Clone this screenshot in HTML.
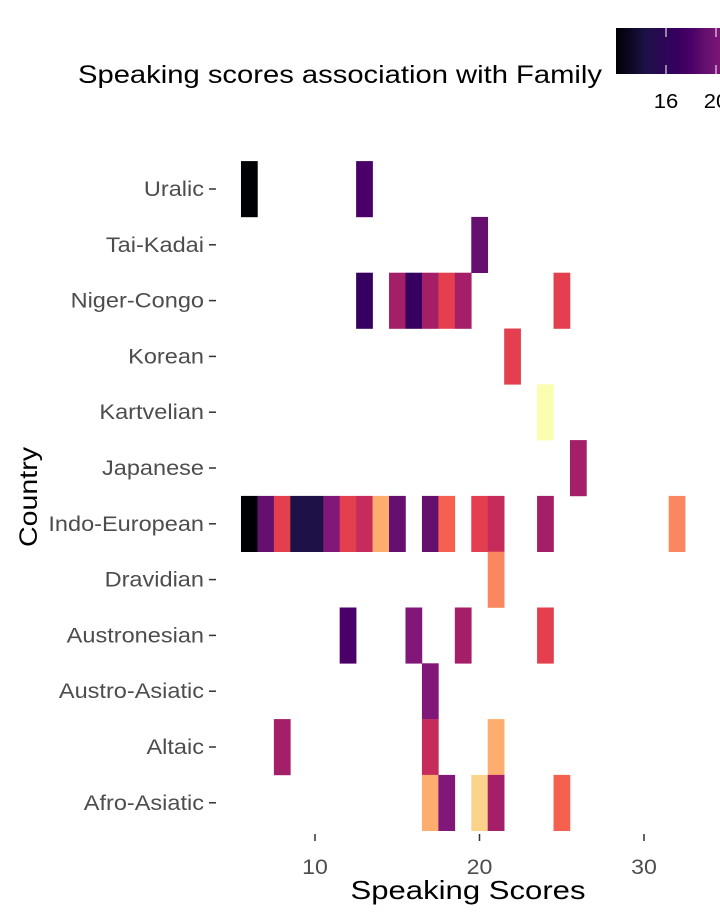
<!DOCTYPE html>
<html><head><meta charset="utf-8"><style>
html,body{margin:0;padding:0;background:#fff}
svg{display:block;font-family:"Liberation Sans",Arial,sans-serif}
</style></head><body>
<svg id="chart" width="720" height="921" viewBox="0 0 720 921">
<defs>
<linearGradient id="cbar" x1="0" x2="1" y1="0" y2="0"></linearGradient>
</defs>
<text x="78" y="83" font-size="25" fill="#000" textLength="524" lengthAdjust="spacingAndGlyphs">Speaking scores association with Family</text>
<g id="legend"></g>
<g id="tiles"></g>
<g id="yaxis"></g>
<g id="xaxis"></g>
<text transform="translate(37,497) rotate(-90)" text-anchor="middle" font-size="25" fill="#000" textLength="100" lengthAdjust="spacingAndGlyphs">Country</text>
<text x="468" y="899" text-anchor="middle" font-size="26" fill="#000" textLength="235" lengthAdjust="spacingAndGlyphs">Speaking Scores</text>
</svg>
<script>
const families = ["Uralic","Tai-Kadai","Niger-Congo","Korean","Kartvelian","Japanese","Indo-European","Dravidian","Austronesian","Austro-Asiatic","Altaic","Afro-Asiatic"];
const tileFamily = [
 "Uralic","Uralic",
 "Tai-Kadai",
 "Niger-Congo","Niger-Congo","Niger-Congo","Niger-Congo","Niger-Congo","Niger-Congo","Niger-Congo",
 "Korean","Kartvelian","Japanese",
 "Indo-European","Indo-European","Indo-European","Indo-European","Indo-European","Indo-European","Indo-European","Indo-European","Indo-European","Indo-European","Indo-European","Indo-European","Indo-European","Indo-European","Indo-European","Indo-European",
 "Dravidian",
 "Austronesian","Austronesian","Austronesian","Austronesian",
 "Austro-Asiatic",
 "Altaic","Altaic","Altaic",
 "Afro-Asiatic","Afro-Asiatic","Afro-Asiatic","Afro-Asiatic","Afro-Asiatic"];
const tileScore = [
 6,13,
 20,
 13,15,16,17,18,19,25,
 22,24,26,
 6,7,8,9,10,11,12,13,14,15,17,18,20,21,24,32,
 21,
 12,16,19,24,
 17,
 8,17,21,
 17,18,20,21,25];
const tileFill = [
 12,18,
 19.2,
 16.8,22.6,16.8,22.6,26.4,22.6,26.4,
 26.4,36,22.6,
 12,19.2,26.4,14.4,14.4,20.6,26.4,24.5,31.7,19.2,19.2,28.3,26.4,24.5,22.6,30,
 30,
 18,20.6,22.6,26.4,
 20.6,
 22.6,24.5,31.7,
 31.7,20.6,33.6,22.6,28.3];
const xTicks = [10,20,30];
const legendTicks = [16,20,24,28,32];

const fillMin = 12, fillMax = 36;
const stops = [[0,"#000004"],[0.1,"#1d1147"],[0.2,"#35005f"],[0.25,"#4a0068"],[0.3,"#65106f"],[0.36,"#83177a"],[0.44,"#a31e68"],[0.52,"#c52c5c"],[0.6,"#e33f4e"],[0.68,"#f5604f"],[0.75,"#fb8761"],[0.82,"#fdae6e"],[0.9,"#fbd38b"],[1,"#fbfdb0"]];
function hex(h){return [1,3,5].map(i=>parseInt(h.substr(i,2),16));}
function color(v){
  let t=Math.max(0,Math.min(1,(v-fillMin)/(fillMax-fillMin)));
  for(let i=1;i<stops.length;i++){ if(t<=stops[i][0]){ const a=stops[i-1],b=stops[i]; const f=(t-a[0])/(b[0]-a[0]); const ca=hex(a[1]),cb=hex(b[1]); return "rgb("+ca.map((c,k)=>Math.round(c+(cb[k]-c)*f)).join(",")+")"; } }
  return stops[stops.length-1][1];
}
const NS="http://www.w3.org/2000/svg";
const xScale = v => 315 + (v-10)*16.45;
const rowH = 55.8;
const yScale = f => 189 + families.indexOf(f)*rowH;
function mk(tag,attrs,parent){const e=document.createElementNS(NS,tag);for(const k in attrs)e.setAttribute(k,attrs[k]);parent.appendChild(e);return e;}
function stretch(t,factor){try{const w=t.getComputedTextLength();if(w>0){t.setAttribute("textLength",(w*factor).toFixed(1));t.setAttribute("lengthAdjust","spacingAndGlyphs");}}catch(e){}}

const tiles=document.getElementById("tiles");
tileScore.forEach((s,i)=>{
  const r=mk("rect",{x:xScale(s-0.5),y:yScale(tileFamily[i])-rowH/2,width:16.45+0.3,height:rowH+0.3,fill:color(tileFill[i])},tiles);
  
  
});

const ya=document.getElementById("yaxis");
families.forEach(f=>{
  const y=yScale(f);
  const t=mk("text",{x:204,y:y+7,"text-anchor":"end","font-size":"21",fill:"#4d4d4d"},ya);
  t.textContent=f;
  
  
  stretch(t,1.12);
  const l=mk("line",{x1:209,x2:216,y1:y,y2:y,stroke:"#333","stroke-width":"1.5"},ya);
  
  
});

const xa=document.getElementById("xaxis");
xTicks.forEach(v=>{
  const x=xScale(v);
  const l=mk("line",{x1:x,x2:x,y1:834,y2:841,stroke:"#333","stroke-width":"1.5"},xa);
  
  
  const t=mk("text",{x:x,y:874,"text-anchor":"middle","font-size":"21",fill:"#4d4d4d"},xa);
  t.textContent=v;
  
  
  stretch(t,1.1);
});

const grad=document.getElementById("cbar");
stops.forEach(s=>{mk("stop",{offset:s[0],"stop-color":s[1]},grad);});
const lg=document.getElementById("legend");
const lx = v => 616 + (v-fillMin)*12.5;
const bar=mk("rect",{x:lx(fillMin),y:28,width:lx(fillMax)-lx(fillMin),height:46,fill:"url(#cbar)"},lg);


legendTicks.forEach(v=>{
  const x=lx(v);
  const a=mk("line",{x1:x,x2:x,y1:28,y2:37,stroke:"#fff","stroke-width":"1"},lg);
  
  
  const b=mk("line",{x1:x,x2:x,y1:65,y2:74,stroke:"#fff","stroke-width":"1"},lg);
  
  
  const t=mk("text",{x:x,y:108,"text-anchor":"middle","font-size":"20",fill:"#000"},lg);
  t.textContent=v;
  
  
  stretch(t,1.1);
});
</script>
</body></html>
